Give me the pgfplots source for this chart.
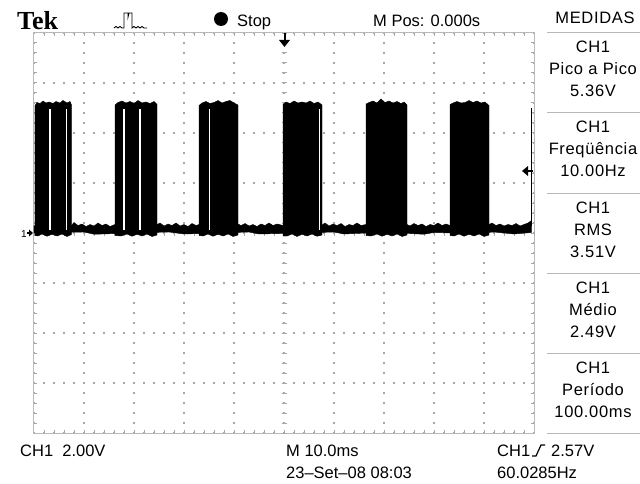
\documentclass[border=0pt]{standalone}
\usepackage{fontspec}
\setmainfont{Liberation Sans}
\newfontfamily\tekfont{Liberation Serif}
\newfontfamily\panelfont[LetterSpace=4]{Liberation Sans}
\usepackage{pgfplots}
\pgfplotsset{compat=1.18}
\definecolor{gridgray}{HTML}{A8A8A8}
\definecolor{sepgray}{HTML}{B8B8B8}

\begin{document}
\begin{tikzpicture}[x=1pt,y=1pt]
\useasboundingbox (0,0) rectangle (640,483);
\begin{axis}[
  at={(34pt,50pt)}, anchor=south west,
  scale only axis, width=500pt, height=400pt,
  xmin=0, xmax=100, ymin=-8, ymax=8,
  xtick={0,10,...,100}, ytick={-8,-6,...,8},
  minor x tick num=4, minor y tick num=4,
  xticklabels={}, yticklabels={},
  tick align=inside,
  major tick length=3pt, minor tick length=3pt,
  tick style={gridgray, line width=1pt},
  grid=major,
  major grid style={gridgray, line width=1.2pt, dash pattern=on 1.2pt off 8.8pt, dash phase=0.6pt},
  axis line style={sepgray, line width=1pt},
  extra x ticks={50}, extra y ticks={0},
  extra x tick labels={}, extra y tick labels={},
  extra tick style={grid=major, major tick length=0pt,
    major grid style={gridgray, line width=5pt, dash pattern=on 1pt off 9pt, dash phase=0.5pt}},
]
% low level band (noise around 0.2 V)
\addplot[fill=black, draw=black, line width=0.4pt] coordinates {
(0,0.3)(7.5,0.3)(8.0,0.42)(8.8,0.3)(9.6,0.36)(10.4,0.26)(11.2,0.34)(12.0,0.28)(12.8,0.4)(13.6,0.3)(14.4,0.36)(15.2,0.26)(16.2,0.34)
(24.6,0.34)(25.2,0.4)(26.0,0.28)(26.8,0.36)(27.6,0.3)(28.4,0.4)(29.2,0.28)(30.0,0.34)(30.8,0.26)(31.6,0.38)(32.4,0.3)(33.0,0.34)
(40.8,0.36)(41.4,0.3)(42.2,0.38)(43.0,0.28)(43.8,0.34)(44.6,0.26)(45.4,0.36)(46.2,0.3)(47.0,0.4)(47.8,0.3)(48.6,0.36)(49.8,0.3)
(57.6,0.32)(58.2,0.4)(59.0,0.28)(59.8,0.36)(60.6,0.3)(61.4,0.38)(62.2,0.26)(63.0,0.34)(63.8,0.3)(64.6,0.4)(65.4,0.3)(66.4,0.34)
(74.6,0.34)(75.2,0.28)(76.0,0.38)(76.8,0.3)(77.6,0.36)(78.4,0.26)(79.2,0.34)(80.0,0.3)(80.8,0.4)(81.6,0.3)(82.4,0.36)(83.2,0.3)
(91.0,0.34)(91.6,0.4)(92.4,0.3)(93.2,0.36)(94.0,0.28)(94.8,0.34)(95.6,0.3)(96.4,0.38)(97.2,0.28)(98.0,0.34)(98.8,0.4)(99.5,0.5)
(99.5,0.02)(96,-0.04)(92,0.04)(88,-0.02)(80,0.02)(78,-0.05)(70,0.03)(62,-0.04)(60,0.04)(54,0)(45,-0.04)(43,0.04)(37,0)(30,-0.04)(27,0.04)(20,0)(12,-0.05)(10,0.04)(0,0)
} -- cycle;
% bursts
\addplot[fill=black, draw=black, line width=0.4pt] coordinates {
(0.2,-0.1)(0.2,5.1)(0.6,5.22)(1.2,5.18)(1.8,5.28)(2.4,5.2)(3.0,5.24)(3.8,5.18)(4.4,5.26)(5.2,5.2)(5.8,5.3)(6.6,5.2)(7.2,5.26)(7.5,5.12)
(7.5,-0.06)(6.6,-0.14)(5.6,-0.04)(4.6,-0.12)(3.6,-0.05)(2.6,-0.13)(1.6,-0.04)(0.8,-0.12)} -- cycle;
\addplot[fill=black, draw=black, line width=0.4pt] coordinates {
(16.2,-0.1)(16.2,5.12)(16.8,5.22)(17.6,5.28)(18.4,5.2)(19.2,5.26)(20.0,5.18)(20.8,5.3)(21.6,5.2)(22.4,5.24)(23.2,5.18)(24.0,5.26)(24.6,5.14)
(24.6,-0.08)(23.6,-0.14)(22.6,-0.04)(21.6,-0.12)(20.6,-0.05)(19.6,-0.13)(18.6,-0.04)(17.4,-0.12)} -- cycle;
\addplot[fill=black, draw=black, line width=0.4pt] coordinates {
(33.0,-0.1)(33.0,5.1)(33.6,5.2)(34.4,5.26)(35.2,5.18)(36.0,5.22)(36.8,5.3)(37.6,5.2)(38.4,5.26)(39.2,5.3)(40.0,5.2)(40.8,5.12)
(40.8,-0.08)(39.8,-0.14)(38.8,-0.04)(37.8,-0.12)(36.8,-0.05)(35.8,-0.13)(34.8,-0.04)(33.8,-0.12)} -- cycle;
\addplot[fill=black, draw=black, line width=0.4pt] coordinates {
(49.8,-0.12)(49.8,5.14)(50.4,5.24)(51.2,5.18)(52.0,5.28)(52.8,5.2)(53.6,5.24)(54.4,5.2)(55.2,5.28)(56.0,5.18)(56.8,5.24)(57.6,5.12)
(57.6,-0.08)(56.6,-0.13)(55.6,-0.04)(54.6,-0.12)(53.6,-0.05)(52.6,-0.14)(51.6,-0.04)(50.6,-0.12)} -- cycle;
\addplot[fill=black, draw=black, line width=0.4pt] coordinates {
(66.4,-0.1)(66.4,5.16)(67.0,5.22)(67.8,5.28)(68.6,5.2)(69.4,5.36)(70.2,5.22)(71.0,5.28)(71.8,5.2)(72.6,5.26)(73.4,5.18)(74.0,5.24)(74.6,5.12)
(74.6,-0.08)(73.6,-0.14)(72.6,-0.04)(71.6,-0.12)(70.6,-0.05)(69.6,-0.13)(68.6,-0.04)(67.4,-0.12)} -- cycle;
\addplot[fill=black, draw=black, line width=0.4pt] coordinates {
(83.2,-0.1)(83.2,5.14)(83.8,5.2)(84.6,5.26)(85.4,5.2)(86.2,5.22)(87.0,5.3)(87.8,5.22)(88.6,5.28)(89.4,5.2)(90.2,5.24)(91.0,5.1)
(91.0,-0.08)(90.0,-0.14)(89.0,-0.04)(88.0,-0.12)(87.0,-0.05)(86.0,-0.13)(85.0,-0.04)(84.0,-0.12)} -- cycle;
% gaps inside bursts
\addplot[white, line width=1.6pt] coordinates {(3.2,0.12)(3.2,4.96)};
\addplot[white, line width=1.6pt] coordinates {(6.5,0.12)(6.5,4.96)};
\addplot[white, line width=1.6pt] coordinates {(18.0,0.12)(18.0,4.96)};
\addplot[white, line width=1.6pt] coordinates {(21.2,0.12)(21.2,4.96)};
\addplot[white, line width=1.6pt] coordinates {(35.1,0.12)(35.1,4.96)};
\addplot[white, line width=1.6pt] coordinates {(57.1,0.12)(57.1,4.96)};
% last rising edge
\addplot[black, line width=1.8pt] coordinates {(99.5,0.3)(99.5,5.0)};
\end{axis}

% markers
\draw[line width=2pt] (284.5,450) -- (284.5,442);
\fill (279,443) -- (290,443) -- (284.5,436) -- cycle;
\fill (522,312) -- (528,317) -- (528,307) -- cycle;
\draw[line width=2pt] (527,312) -- (533,312);
\node[anchor=base east, inner sep=0, font=\fontsize{10}{10}\selectfont] at (27,246) {1};
\fill (33,250) -- (29,253.5) -- (29,246.5) -- cycle;
\draw[line width=1.5pt] (26.5,250) -- (30,250);

% header
\node[anchor=base west, inner sep=0] at (17,453) {\tekfont\bfseries\fontsize{26}{26}\selectfont Tek};
\draw[line width=0.9pt] (114,455) -- (116,456.5) -- (118,455) -- (120,456.5) -- (122,455) -- (124,455)
  -- (124,470) -- (128,470) -- (128,466) -- (129,470) -- (132,470) -- (132,455)
  -- (134,456.5) -- (136,455) -- (138,456.5) -- (140,455) -- (142,456.5) -- (144,455) -- (147,455);
\fill (221,464) circle (7);
\node[anchor=base west, inner sep=0, font=\fontsize{16.5}{18}\selectfont] at (237,456) {Stop};
\node[anchor=base west, inner sep=0, font=\fontsize{16.5}{18}\selectfont] at (373,456) {M Pos: 0.000s};

% measurement panel
\begin{scope}[every node/.style={anchor=base, inner sep=0, font=\panelfont\fontsize{16.5}{18}\selectfont}]
\node at (595,459) {MEDIDAS};
\foreach \yy in {450,370,290,210,130,50}
  \draw[sepgray, line width=1pt] (547,\yy) -- (640,\yy);
\node at (593,430) {CH1}; \node at (593,408) {Pico a Pico}; \node at (593,386) {5.36V};
\node at (593,350) {CH1}; \node at (593,328) {Freqüência}; \node at (593,306) {10.00Hz};
\node at (593,270) {CH1}; \node at (593,248) {RMS}; \node at (593,226) {3.51V};
\node at (593,190) {CH1}; \node at (593,168) {Médio}; \node at (593,146) {2.49V};
\node at (593,110) {CH1}; \node at (593,88) {Período}; \node at (593,66) {100.00ms};
\end{scope}

% footer
\begin{scope}[every node/.style={anchor=base west, inner sep=0, font=\fontsize{16.5}{18}\selectfont}]
\node at (20,27) {CH1\ \ 2.00V};
\node at (286,27) {M 10.0ms};
\node at (497,27) {CH1};
\node at (551,27) {2.57V};
\node at (286,5) {23–Set–08 08:03};
\node at (497,5) {60.0285Hz};
\end{scope}
\draw[line width=1.2pt] (532,27) -- (536,27) -- (541,38) -- (545,38);
\end{tikzpicture}
\end{document}
